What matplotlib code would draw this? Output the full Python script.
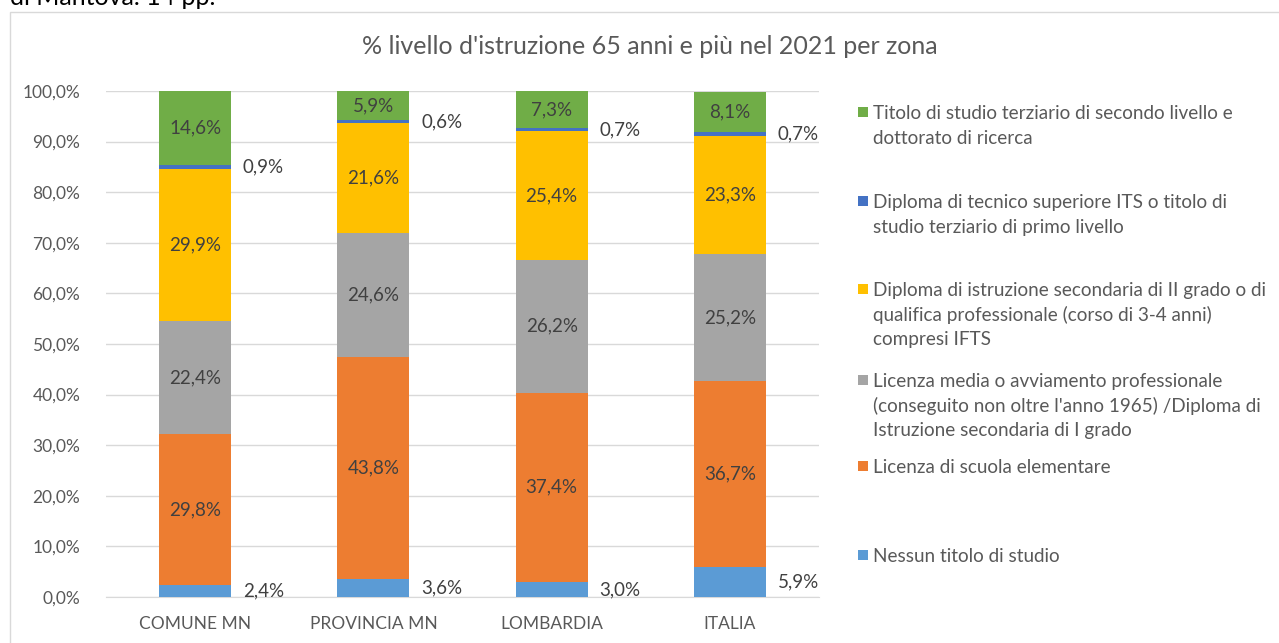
import matplotlib
matplotlib.use("Agg")
import matplotlib.pyplot as plt
from matplotlib.patches import Rectangle
import numpy as np

plt.rcParams['font.family'] = ['Lato', 'DejaVu Sans']

title = "% livello d'istruzione 65 anni e più nel 2021 per zona"
categories = ["COMUNE MN", "PROVINCIA MN", "LOMBARDIA", "ITALIA"]

series_names = [
    "Nessun titolo di studio",
    "Licenza di scuola elementare",
    "Licenza media o avviamento professionale\n(conseguito non oltre l'anno 1965) /Diploma di\nIstruzione secondaria di I grado",
    "Diploma di istruzione secondaria di II grado o di\nqualifica professionale (corso di 3-4 anni)\ncompresi IFTS",
    "Diploma di tecnico superiore ITS o titolo di\nstudio terziario di primo livello",
    "Titolo di studio terziario di secondo livello e\ndottorato di ricerca",
]
nessun = [2.4, 3.6, 3.0, 5.9]
elementare = [29.8, 43.8, 37.4, 36.7]
media = [22.4, 24.6, 26.2, 25.2]
secondaria = [29.9, 21.6, 25.4, 23.3]
its = [0.9, 0.6, 0.7, 0.7]
terziario = [14.6, 5.9, 7.3, 8.1]
values = [nessun, elementare, media, secondaria, its, terziario]
colors = ["#5B9BD5", "#ED7D31", "#A5A5A5", "#FFC000", "#4472C4", "#70AD47"]
yticks = [0, 10, 20, 30, 40, 50, 60, 70, 80, 90, 100]

W, H = 1279, 643
fig = plt.figure(figsize=(W / 100, H / 100), dpi=100)

# chart border (extends past right/bottom edges)
fig.patches.append(Rectangle((10 / W, -0.05), 1.2, 1 - 12 / H + 0.05, transform=fig.transFigure,
                             fill=False, edgecolor="#D9D9D9", linewidth=1.0))
fig.text(10 / W, 1 - 5 / H, "di Mantova. 14 pp.", fontsize=18, color="#000000",
         ha="left", va="baseline")

ax = fig.add_axes([106 / W, 1 - 597 / H, (819 - 106) / W, (597 - 91) / H])
x = np.arange(len(categories))
bw = 0.405
bottom = np.zeros(len(categories))
txtcol = "#404040"
for i, (vals, col) in enumerate(zip(values, colors)):
    vals = np.array(vals)
    ax.bar(x, vals, bw, bottom=bottom, color=col, zorder=3)
    for xi, v, b in zip(x, vals, bottom):
        lab = f"{v:.1f}%".replace(".", ",")
        if i in (0, 4):
            ax.text(xi + bw / 2 + 0.065, b + v / 2, lab, ha="left", va="center",
                    fontsize=13.5, color=txtcol, zorder=4)
        else:
            ax.text(xi, b + v / 2, lab, ha="center", va="center",
                    fontsize=13.5, color=txtcol, zorder=4)
    bottom += vals

ax.set_xlim(-0.5, len(categories) - 0.5)
ax.set_ylim(0, 100)
ax.set_yticks(yticks)
ax.set_yticklabels([f"{t:.1f}%".replace(".", ",") for t in yticks])
ax.set_xticks(x)
ax.set_xticklabels(categories)
ax.tick_params(axis="both", length=0, labelsize=12.5, labelcolor="#595959")
ax.tick_params(axis="y", pad=18.5)
ax.tick_params(axis="x", pad=14)
ax.grid(axis="y", color="#D9D9D9", linewidth=1.0, zorder=0)
for s in ["top", "right", "left"]:
    ax.spines[s].set_visible(False)
ax.spines["bottom"].set_color("#D9D9D9")
ax.spines["bottom"].set_zorder(1)

fig.text(650 / W, 1 - 47 / H, title, ha="center", va="center", fontsize=18, color="#595959")

# legend (top to bottom: reversed order)
leg_y = [112, 201, 289, 380, 466, 555]
line_h = 24.7
for name, col, yy in zip(series_names[::-1], colors[::-1], leg_y):
    fig.patches.append(Rectangle((858 / W, 1 - (yy + 5) / H), 10 / W, 10 / H,
                                 transform=fig.transFigure, facecolor=col, edgecolor="none"))
    for k, line in enumerate(name.split("\n")):
        fig.text(873 / W, 1 - (yy + k * line_h) / H, line, ha="left", va="center_baseline",
                 fontsize=13.6, color="#595959")

fig.savefig("out.png", dpi=100)
